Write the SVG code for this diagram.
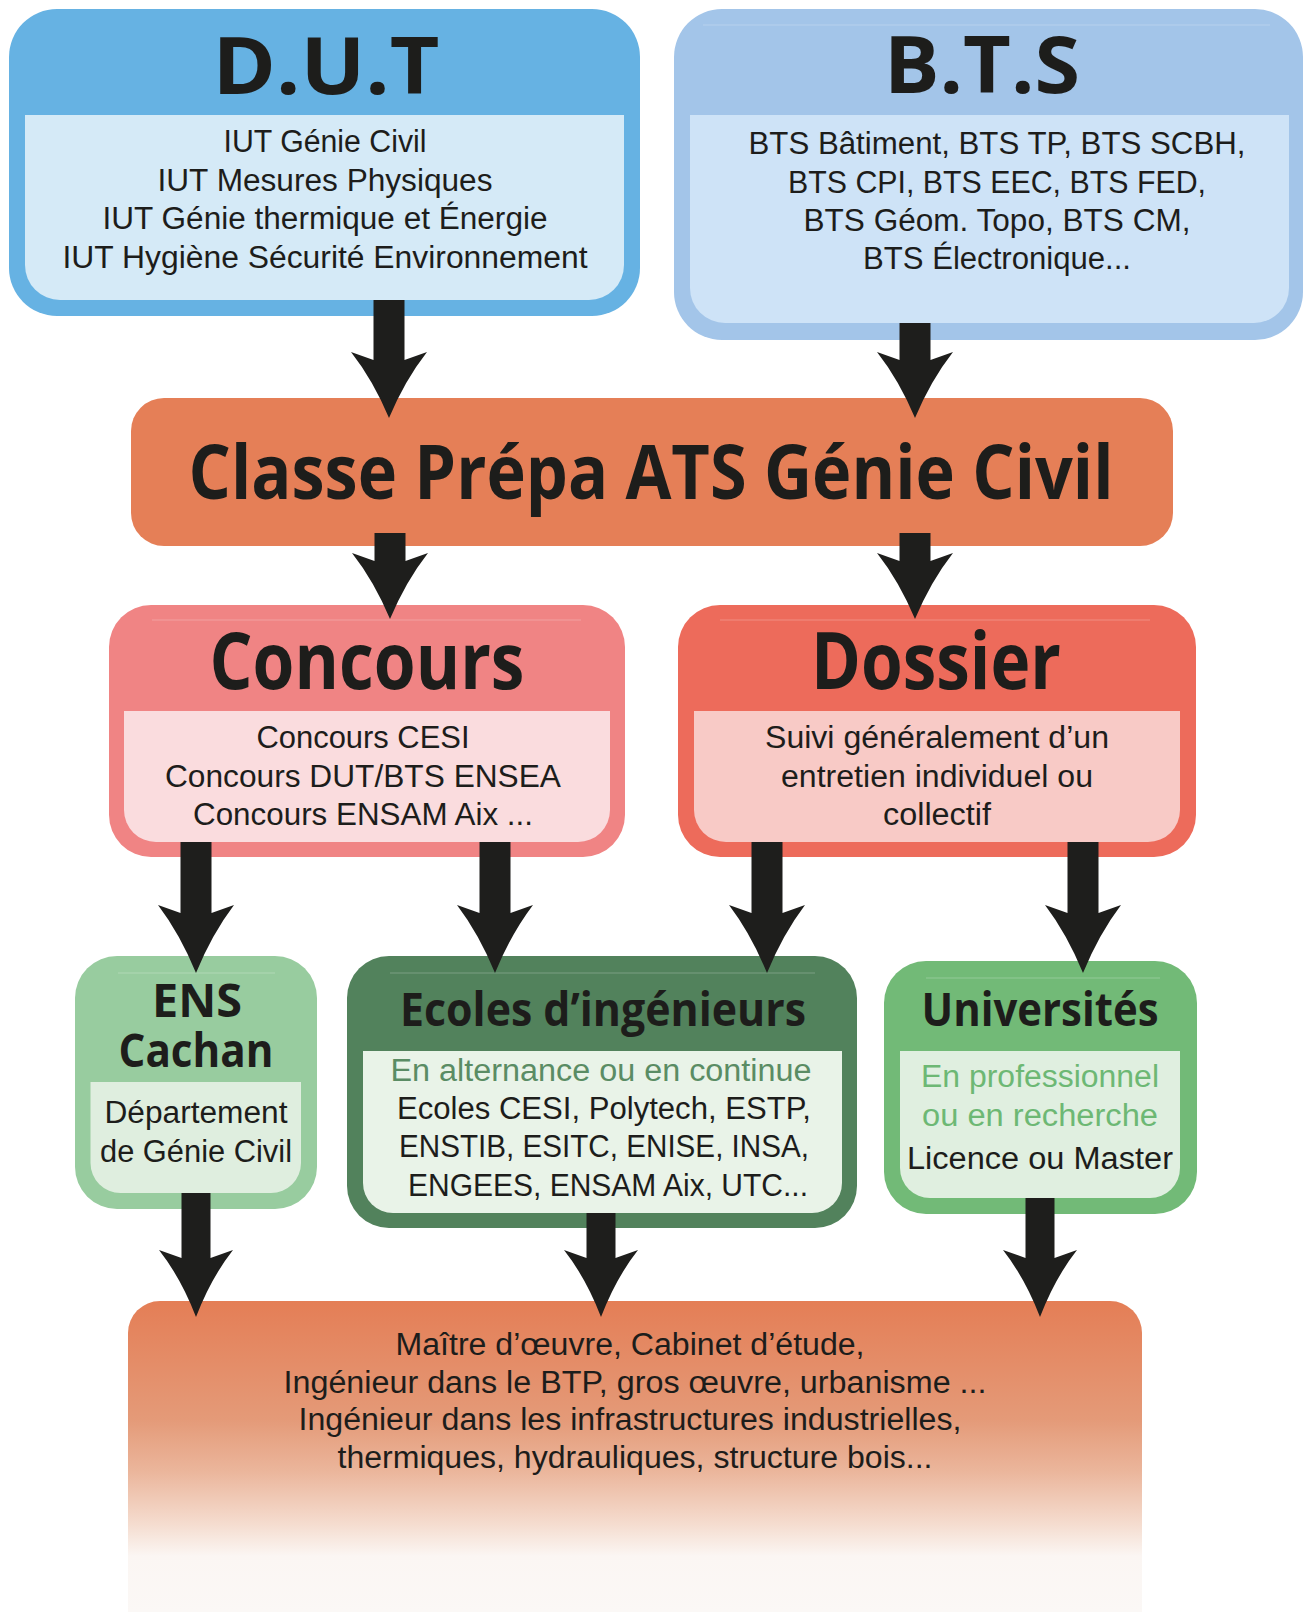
<svg xmlns="http://www.w3.org/2000/svg" width="1311" height="1612" viewBox="0 0 1311 1612">
<defs>
<linearGradient id="gBottom" x1="0" y1="0" x2="0" y2="1">
<stop offset="0" stop-color="#E47E56"/>
<stop offset="0.38" stop-color="#E49A78"/>
<stop offset="0.55" stop-color="#EBB69C"/>
<stop offset="0.72" stop-color="#F5DDD0"/>
<stop offset="0.82" stop-color="#FBF6F3"/>
<stop offset="1" stop-color="#FBF8F6"/>
</linearGradient>
<style>
.h{font-family:"Open Sans","DejaVu Sans",sans-serif;font-weight:bold;fill:#1D1D1B;text-anchor:middle}
.b{font-family:"Liberation Sans",Arial,sans-serif;font-size:31px;fill:#1D1D1B;text-anchor:middle}
.arrow{fill:#1E1E1C}
.faint{stroke:#FFFFFF;stroke-opacity:0.16;stroke-width:1.5}
</style>
</defs>
<rect width="1311" height="1612" fill="#FFFFFF"/>

<g id="node-dut">
<rect x="9" y="9" width="631" height="307" rx="48" fill="#66B2E3"/>
<path d="M25,115 H624 V265 A35,35 0 0 1 589,300 H60 A35,35 0 0 1 25,265 Z" fill="#D5EAF7"/>
<text class="h" x="326" y="94" font-size="78" textLength="227" lengthAdjust="spacingAndGlyphs">D.U.T</text>
<text class="b" x="325" y="152" textLength="203" lengthAdjust="spacingAndGlyphs">IUT Génie Civil</text>
<text class="b" x="325" y="191" textLength="335" lengthAdjust="spacingAndGlyphs">IUT Mesures Physiques</text>
<text class="b" x="325" y="229" textLength="445" lengthAdjust="spacingAndGlyphs">IUT Génie thermique et Énergie</text>
<text class="b" x="325" y="268" textLength="525" lengthAdjust="spacingAndGlyphs">IUT Hygiène Sécurité Environnement</text>
</g>

<g id="node-bts">
<rect x="674" y="9" width="629" height="331" rx="48" fill="#A3C5E9"/>
<line class="faint" x1="703" y1="25" x2="1270" y2="25"/>
<path d="M690,115 H1289 V288 A35,35 0 0 1 1254,323 H725 A35,35 0 0 1 690,288 Z" fill="#CEE3F7"/>
<text class="h" x="982" y="93" font-size="78" textLength="196" lengthAdjust="spacingAndGlyphs">B.T.S</text>
<text class="b" x="997" y="154" textLength="497" lengthAdjust="spacingAndGlyphs">BTS Bâtiment, BTS TP, BTS SCBH,</text>
<text class="b" x="997" y="193" textLength="418" lengthAdjust="spacingAndGlyphs">BTS CPI, BTS EEC, BTS FED,</text>
<text class="b" x="997" y="231" textLength="387" lengthAdjust="spacingAndGlyphs">BTS Géom. Topo, BTS CM,</text>
<text class="b" x="997" y="269" textLength="268" lengthAdjust="spacingAndGlyphs">BTS Électronique...</text>
</g>

<g id="node-prepa">
<rect x="131" y="398" width="1042" height="148" rx="33" fill="#E57F57"/>
<text class="h" x="651" y="499" font-size="76" textLength="925" lengthAdjust="spacingAndGlyphs">Classe Prépa ATS Génie Civil</text>
</g>

<g id="node-concours">
<rect x="109" y="605" width="516" height="252" rx="42" fill="#F08484"/>
<line class="faint" x1="152" y1="620" x2="581" y2="620"/>
<path d="M124,711 H610 V810 A32,32 0 0 1 578,842 H156 A32,32 0 0 1 124,810 Z" fill="#FADCDE"/>
<text class="h" x="367" y="689" font-size="78" textLength="315" lengthAdjust="spacingAndGlyphs">Concours</text>
<text class="b" x="363" y="748" textLength="213" lengthAdjust="spacingAndGlyphs">Concours CESI</text>
<text class="b" x="363" y="787" textLength="396" lengthAdjust="spacingAndGlyphs">Concours DUT/BTS ENSEA</text>
<text class="b" x="363" y="825" textLength="340" lengthAdjust="spacingAndGlyphs">Concours ENSAM Aix ...</text>
</g>

<g id="node-dossier">
<rect x="678" y="605" width="518" height="252" rx="42" fill="#ED6B5B"/>
<line class="faint" x1="720" y1="620" x2="1150" y2="620"/>
<path d="M694,711 H1180 V810 A32,32 0 0 1 1148,842 H726 A32,32 0 0 1 694,810 Z" fill="#F8CAC6"/>
<text class="h" x="936" y="689" font-size="78" textLength="250" lengthAdjust="spacingAndGlyphs">Dossier</text>
<text class="b" x="937" y="748" textLength="344" lengthAdjust="spacingAndGlyphs">Suivi généralement d’un</text>
<text class="b" x="937" y="787" textLength="312" lengthAdjust="spacingAndGlyphs">entretien individuel ou</text>
<text class="b" x="937" y="825" textLength="108" lengthAdjust="spacingAndGlyphs">collectif</text>
</g>

<g id="node-ens">
<rect x="75" y="956" width="242" height="253" rx="42" fill="#98CC9F"/>
<line class="faint" x1="118" y1="973" x2="275" y2="973"/>
<path d="M90.5,1082 H301 V1163 A30,30 0 0 1 271,1193 H120.5 A30,30 0 0 1 90.5,1163 Z" fill="#DFEEDF"/>
<text class="h" x="197" y="1017" font-size="47" textLength="90" lengthAdjust="spacingAndGlyphs">ENS</text>
<text class="h" x="196" y="1067" font-size="47" textLength="155" lengthAdjust="spacingAndGlyphs">Cachan</text>
<text class="b" x="196" y="1123" font-size="32" textLength="183" lengthAdjust="spacingAndGlyphs">Département</text>
<text class="b" x="196" y="1162" font-size="32" textLength="192" lengthAdjust="spacingAndGlyphs">de Génie Civil</text>
</g>

<g id="node-ecoles">
<rect x="347" y="956" width="510" height="272" rx="42" fill="#52825C"/>
<line class="faint" x1="390" y1="973" x2="815" y2="973"/>
<path d="M363,1051 H842 V1183 A30,30 0 0 1 812,1213 H393 A30,30 0 0 1 363,1183 Z" fill="#E9F3E8"/>
<text class="h" x="603" y="1026" font-size="46" textLength="406" lengthAdjust="spacingAndGlyphs">Ecoles d’ingénieurs</text>
<text class="b" x="601" y="1081" style="fill:#5A8C64" textLength="421" lengthAdjust="spacingAndGlyphs">En alternance ou en continue</text>
<text class="b" x="604" y="1119" textLength="414" lengthAdjust="spacingAndGlyphs">Ecoles CESI, Polytech, ESTP,</text>
<text class="b" x="604" y="1157" textLength="410" lengthAdjust="spacingAndGlyphs">ENSTIB, ESITC, ENISE, INSA,</text>
<text class="b" x="608" y="1196" textLength="400" lengthAdjust="spacingAndGlyphs">ENGEES, ENSAM Aix, UTC...</text>
</g>

<g id="node-universites">
<rect x="884" y="961" width="313" height="253" rx="42" fill="#72BA77"/>
<line class="faint" x1="926" y1="978" x2="1160" y2="978"/>
<path d="M900,1051 H1180 V1168 A30,30 0 0 1 1150,1198 H930 A30,30 0 0 1 900,1168 Z" fill="#E0EFE0"/>
<text class="h" x="1040" y="1026" font-size="46" textLength="237" lengthAdjust="spacingAndGlyphs">Universités</text>
<text class="b" x="1040" y="1087" style="fill:#6DB874" textLength="238" lengthAdjust="spacingAndGlyphs">En professionnel</text>
<text class="b" x="1040" y="1126" style="fill:#6DB874" textLength="236" lengthAdjust="spacingAndGlyphs">ou en recherche</text>
<text class="b" x="1040" y="1169" textLength="266" lengthAdjust="spacingAndGlyphs">Licence ou Master</text>
</g>

<g id="node-metiers">
<path d="M128,1612 V1333 A32,32 0 0 1 160,1301 H1110 A32,32 0 0 1 1142,1333 V1612 Z" fill="url(#gBottom)"/>
<text class="b" x="630" y="1355" font-size="32" textLength="469" lengthAdjust="spacingAndGlyphs">Maître d’œuvre, Cabinet d’étude,</text>
<text class="b" x="635" y="1393" font-size="32" textLength="703" lengthAdjust="spacingAndGlyphs">Ingénieur dans le BTP, gros œuvre, urbanisme ...</text>
<text class="b" x="630" y="1430" font-size="32" textLength="663" lengthAdjust="spacingAndGlyphs">Ingénieur dans les infrastructures industrielles,</text>
<text class="b" x="635" y="1468" font-size="32" textLength="595" lengthAdjust="spacingAndGlyphs">thermiques, hydrauliques, structure bois...</text>
</g>

<g id="connectors">
<path class="arrow" d="M373.5,300 H404.5 V360 L427,352 Q405,380 389,418 Q373,380 351,352 L373.5,360 Z"/>
<path class="arrow" d="M899.5,323 H930.5 V360 L953,352 Q931,380 915,418 Q899,380 877,352 L899.5,360 Z"/>
<path class="arrow" d="M374.5,533 H405.5 V561 L428,553 Q406,581 390,619 Q374,581 352,553 L374.5,561 Z"/>
<path class="arrow" d="M899.5,533 H930.5 V561 L953,553 Q931,581 915,619 Q899,581 877,553 L899.5,561 Z"/>
<path class="arrow" d="M180.5,842 H211.5 V913 L234,905 Q212,934 196,973 Q180,934 158,905 L180.5,913 Z"/>
<path class="arrow" d="M479.5,842 H510.5 V913 L533,905 Q511,934 495,973 Q479,934 457,905 L479.5,913 Z"/>
<path class="arrow" d="M751.5,842 H782.5 V913 L805,905 Q783,934 767,973 Q751,934 729,905 L751.5,913 Z"/>
<path class="arrow" d="M1067.5,842 H1098.5 V913 L1121,905 Q1099,934 1083,973 Q1067,934 1045,905 L1067.5,913 Z"/>
<path class="arrow" d="M181.5,1193 H210.5 V1258 L233,1250 Q211,1278 196,1317 Q181,1278 159,1250 L181.5,1258 Z"/>
<path class="arrow" d="M586.5,1213 H615.5 V1258 L638,1250 Q616,1278 601,1317 Q586,1278 564,1250 L586.5,1258 Z"/>
<path class="arrow" d="M1025.5,1198 H1054.5 V1258 L1077,1250 Q1055,1278 1040,1317 Q1025,1278 1003,1250 L1025.5,1258 Z"/>
</g>
</svg>
